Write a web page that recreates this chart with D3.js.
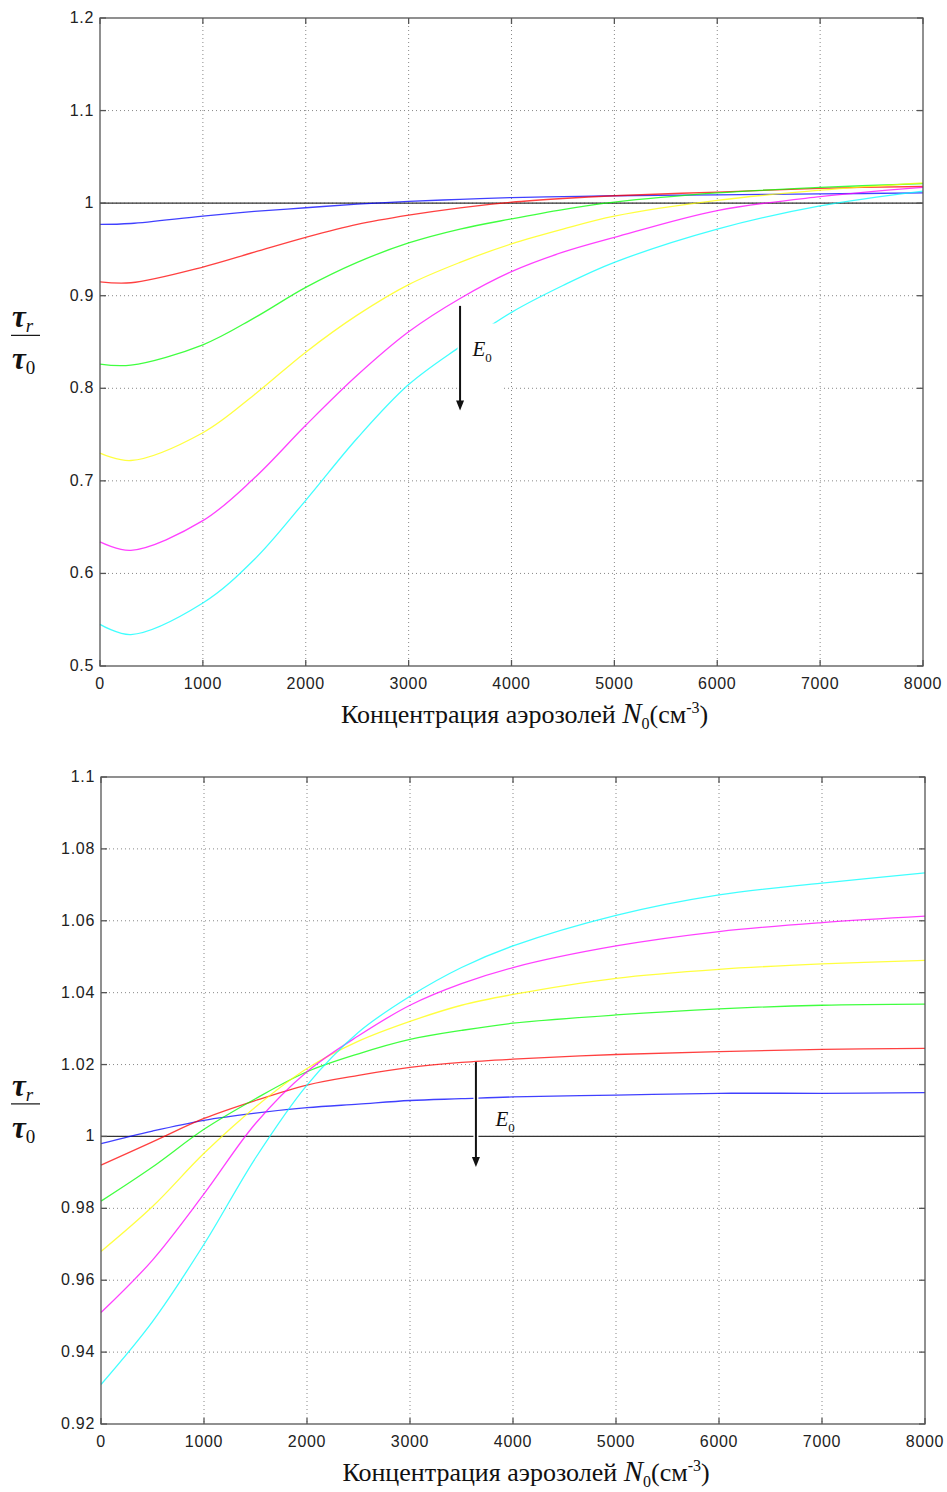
<!DOCTYPE html>
<html>
<head>
<meta charset="utf-8">
<script src="https://cdn.jsdelivr.net/npm/d3@7"></script>
<style>
  body { margin: 0; background: #fff; }
  svg { display: block; }
  .tick-label { font-family: "Liberation Sans", Arial, sans-serif; font-size: 16px; letter-spacing: 0.7px; fill: #222; }
  .serif { font-family: "Liberation Serif", "Times New Roman", serif; fill: #111; }
</style>
</head>
<body>
<svg id="chart"></svg>
<script>
// x values (N0, cm^-3), shared by every curve
const nTop = [0, 300, 1000, 1500, 2000, 2500, 3000, 3500, 4000, 4500, 5000, 6000, 7000, 8000];
const nBot = [0, 500, 1000, 1500, 2000, 2500, 3000, 3500, 4000, 5000, 6000, 7000, 8000];

const seriesColors = ["#0000ff", "#ff0000", "#00ff00", "#ffff00", "#ff00ff", "#00ffff"];

// top panel, tau_r / tau_0
const topBlue    = [0.977, 0.978, 0.986, 0.991, 0.995, 0.999, 1.002, 1.004, 1.006, 1.007, 1.008, 1.009, 1.010, 1.011];
const topRed     = [0.915, 0.914, 0.931, 0.947, 0.963, 0.977, 0.987, 0.995, 1.001, 1.005, 1.008, 1.012, 1.016, 1.018];
const topGreen   = [0.826, 0.825, 0.847, 0.876, 0.909, 0.936, 0.957, 0.972, 0.983, 0.993, 1.001, 1.011, 1.017, 1.021];
const topYellow  = [0.730, 0.722, 0.752, 0.793, 0.839, 0.879, 0.912, 0.936, 0.956, 0.972, 0.986, 1.003, 1.014, 1.022];
const topMagenta = [0.634, 0.625, 0.657, 0.703, 0.760, 0.814, 0.861, 0.897, 0.926, 0.947, 0.963, 0.992, 1.007, 1.017];
const topCyan    = [0.545, 0.534, 0.568, 0.615, 0.679, 0.746, 0.804, 0.845, 0.882, 0.911, 0.936, 0.972, 0.997, 1.013];

// bottom panel, tau_r / tau_0
const botBlue    = [0.998, 1.0015, 1.0045, 1.0065, 1.008, 1.009, 1.010, 1.0105, 1.011, 1.0115, 1.012, 1.012, 1.0122];
const botRed     = [0.992, 0.9985, 1.005, 1.010, 1.0143, 1.017, 1.0192, 1.0206, 1.0215, 1.0228, 1.0236, 1.0242, 1.0245];
const botGreen   = [0.982, 0.9915, 1.002, 1.0105, 1.018, 1.023, 1.027, 1.0295, 1.0315, 1.0338, 1.0355, 1.0365, 1.0368];
const botYellow  = [0.968, 0.9805, 0.9953, 1.0082, 1.0189, 1.0265, 1.032, 1.0365, 1.0395, 1.044, 1.0465, 1.048, 1.049];
const botMagenta = [0.951, 0.9656, 0.984, 1.0036, 1.018, 1.028, 1.0365, 1.0425, 1.047, 1.053, 1.057, 1.0595, 1.0613];
const botCyan    = [0.931, 0.9485, 0.970, 0.994, 1.0143, 1.029, 1.039, 1.047, 1.053, 1.0615, 1.0672, 1.0705, 1.0733];

const xTicks = [0, 1000, 2000, 3000, 4000, 5000, 6000, 7000, 8000];
const yTicksTop = [0.5, 0.6, 0.7, 0.8, 0.9, 1.0, 1.1, 1.2];
const yTicksBot = [0.92, 0.94, 0.96, 0.98, 1.0, 1.02, 1.04, 1.06, 1.08, 1.1];

const svg = d3.select("#chart").attr("width", 947).attr("height", 1492);

const drawPanel = (p) => {
  const x = d3.scaleLinear().domain([0, 8000]).range([p.left, p.right]);
  const y = d3.scaleLinear().domain(p.yDomain).range([p.bottom, p.top]);
  const g = svg.append("g");

  // dotted grid
  g.append("g").selectAll("line").data(xTicks.slice(1, -1)).join("line")
    .attr("x1", d => x(d)).attr("x2", d => x(d))
    .attr("y1", p.top).attr("y2", p.bottom)
    .attr("stroke", "#888").attr("stroke-width", 1).attr("stroke-dasharray", "1,3");
  g.append("g").selectAll("line").data(p.yTicks.slice(1, -1)).join("line")
    .attr("x1", p.left).attr("x2", p.right)
    .attr("y1", d => y(d)).attr("y2", d => y(d))
    .attr("stroke", "#888").attr("stroke-width", 1).attr("stroke-dasharray", "1,3");

  // reference line at 1
  g.append("line")
    .attr("x1", p.left).attr("x2", p.right)
    .attr("y1", y(1)).attr("y2", y(1))
    .attr("stroke", "#333").attr("stroke-width", 1.2);

  const line = d3.line().x(d => x(d[0])).y(d => y(d[1])).curve(d3.curveCatmullRom.alpha(0.5));
  p.series.forEach((vals, i) => {
    g.append("path")
      .datum(p.n.map((n, j) => [n, vals[j]]))
      .attr("d", line)
      .attr("fill", "none")
      .attr("stroke", seriesColors[i])
      .attr("stroke-width", 1.3)
      .attr("stroke-opacity", 0.75);
  });

  // white patch behind the annotation (the source has its curves cut there)
  if (p.patch) {
    g.append("rect")
      .attr("x", x(p.patch[0])).attr("y", y(p.patch[3]))
      .attr("width", x(p.patch[1]) - x(p.patch[0]))
      .attr("height", y(p.patch[2]) - y(p.patch[3]))
      .attr("fill", "#fff");
  }

  // box and inward ticks
  g.append("rect")
    .attr("x", p.left).attr("y", p.top)
    .attr("width", p.right - p.left).attr("height", p.bottom - p.top)
    .attr("fill", "none").attr("stroke", "#555").attr("stroke-width", 1.3);
  xTicks.forEach(t => {
    g.append("line").attr("x1", x(t)).attr("x2", x(t)).attr("y1", p.bottom).attr("y2", p.bottom - 6)
      .attr("stroke", "#555").attr("stroke-width", 1.3);
    g.append("line").attr("x1", x(t)).attr("x2", x(t)).attr("y1", p.top).attr("y2", p.top + 6)
      .attr("stroke", "#555").attr("stroke-width", 1.3);
  });
  p.yTicks.forEach(t => {
    g.append("line").attr("x1", p.left).attr("x2", p.left + 6).attr("y1", y(t)).attr("y2", y(t))
      .attr("stroke", "#555").attr("stroke-width", 1.3);
    g.append("line").attr("x1", p.right).attr("x2", p.right - 6).attr("y1", y(t)).attr("y2", y(t))
      .attr("stroke", "#555").attr("stroke-width", 1.3);
  });

  // tick labels
  g.append("g").selectAll("text").data(xTicks).join("text")
    .attr("class", "tick-label")
    .attr("x", d => x(d)).attr("y", p.bottom + 23)
    .attr("text-anchor", "middle")
    .text(d => d);
  g.append("g").selectAll("text").data(p.yTicks).join("text")
    .attr("class", "tick-label")
    .attr("x", p.left - 6).attr("y", d => y(d) + 5)
    .attr("text-anchor", "end")
    .text(d => String(+d.toFixed(2)));

  // arrow E0
  const ax = x(p.arrow[0]), ay1 = y(p.arrow[1]), ay2 = y(p.arrow[2]);
  g.append("line").attr("x1", ax).attr("x2", ax).attr("y1", ay1).attr("y2", ay2 - 8)
    .attr("stroke", "#fff").attr("stroke-width", 5);
  g.append("line").attr("x1", ax).attr("x2", ax).attr("y1", ay1).attr("y2", ay2 - 8)
    .attr("stroke", "#111").attr("stroke-width", 2);
  g.append("path")
    .attr("d", `M${ax - 4},${ay2 - 10} L${ax + 4},${ay2 - 10} L${ax},${ay2} Z`)
    .attr("fill", "#111");
  const e = g.append("text").attr("class", "serif")
    .attr("x", x(p.label[0])).attr("y", y(p.label[1]))
    .attr("font-size", 21);
  e.append("tspan").attr("font-style", "italic").text("E");
  e.append("tspan").attr("font-size", 13).attr("dy", 6).text("0");

  // y label: fraction tau_r / tau_0
  const mid = y(p.fracAt);
  const t1 = g.append("text").attr("class", "serif")
    .attr("x", 12).attr("y", mid - 10).attr("font-size", 31)
    .attr("font-style", "italic").attr("font-weight", "bold");
  t1.append("tspan").text("τ");
  t1.append("tspan").attr("font-size", 19).attr("dy", 5).attr("font-weight", "normal").text("r");
  g.append("line").attr("x1", 11).attr("x2", 40).attr("y1", mid - 2).attr("y2", mid - 2)
    .attr("stroke", "#111").attr("stroke-width", 1.2);
  const t2 = g.append("text").attr("class", "serif")
    .attr("x", 12).attr("y", mid + 32).attr("font-size", 31)
    .attr("font-style", "italic").attr("font-weight", "bold");
  t2.append("tspan").text("τ");
  t2.append("tspan").attr("font-size", 19).attr("dy", 5).attr("font-style", "normal").attr("font-weight", "normal").text("0");

  // x title
  const xt = g.append("text").attr("class", "serif")
    .attr("x", (p.left + p.right) / 2 + 13).attr("y", p.bottom + 57)
    .attr("text-anchor", "middle").attr("font-size", 26);
  xt.append("tspan").text("Концентрация аэрозолей ");
  xt.append("tspan").attr("font-style", "italic").attr("font-size", 29).text("N");
  xt.append("tspan").attr("font-size", 16).attr("dy", 6).text("0");
  xt.append("tspan").attr("dy", -6).text("(см");
  xt.append("tspan").attr("font-size", 16).attr("dy", -10).text("-3");
  xt.append("tspan").attr("dy", 10).text(")");
};

drawPanel({
  left: 100, right: 923, top: 18, bottom: 666,
  yDomain: [0.5, 1.2], yTicks: yTicksTop, n: nTop,
  series: [topBlue, topRed, topGreen, topYellow, topMagenta, topCyan],
  arrow: [3500, 0.889, 0.776], label: [3620, 0.835],
  patch: [3480, 3905, 0.786, 0.870],
  fracAt: 0.855
});

drawPanel({
  left: 101, right: 925, top: 777, bottom: 1424,
  yDomain: [0.92, 1.1], yTicks: yTicksBot, n: nBot,
  series: [botBlue, botRed, botGreen, botYellow, botMagenta, botCyan],
  arrow: [3640, 1.0207, 0.9915], label: [3830, 1.003],
  patch: null,
  fracAt: 1.0085
});
</script>
</body>
</html>
